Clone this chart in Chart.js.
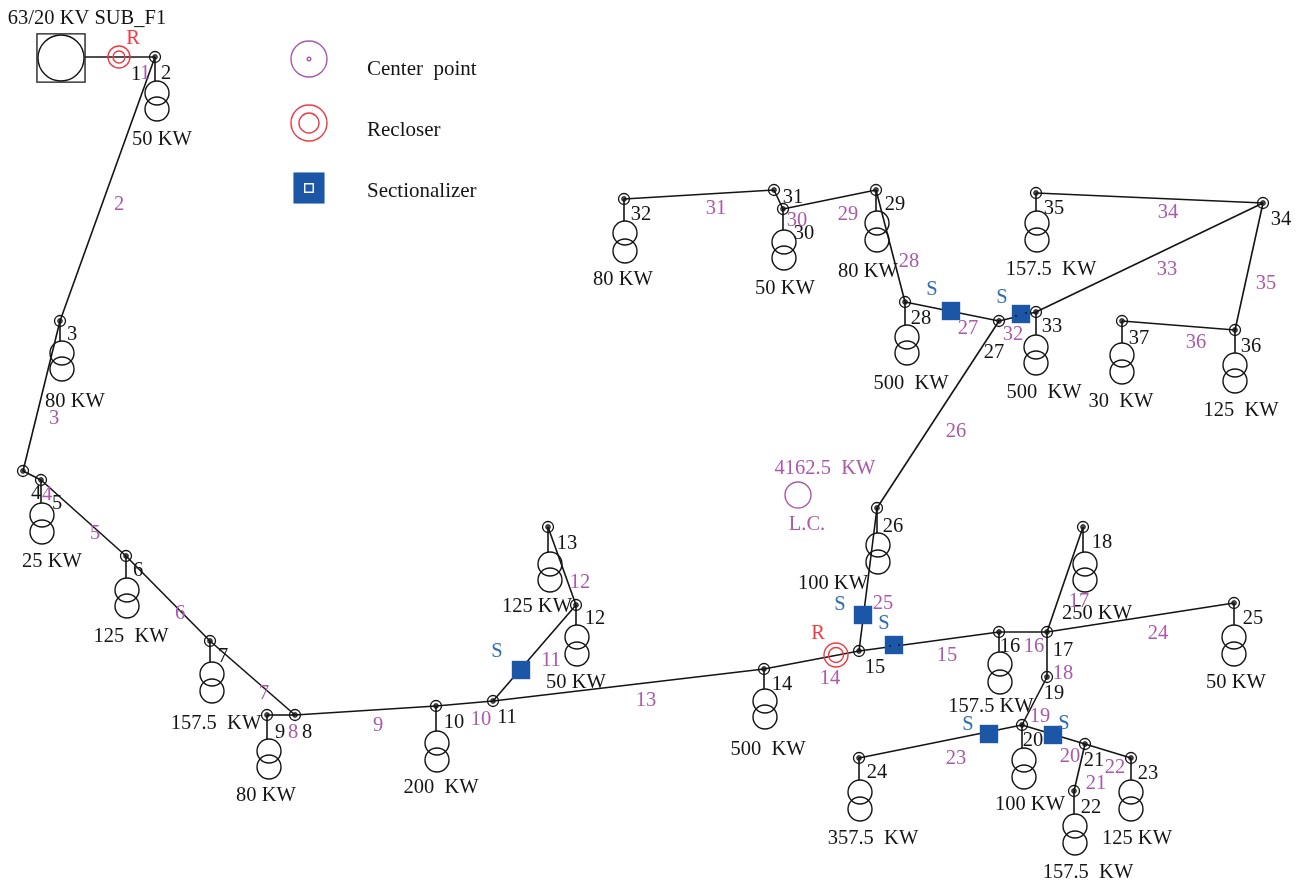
<!DOCTYPE html>
<html><head><meta charset="utf-8">
<style>html,body{margin:0;padding:0;background:#fff}canvas{display:block}</style>
<script src="https://cdn.jsdelivr.net/npm/chart.js@4"></script></head>
<body><canvas id="c" width="1299" height="884"></canvas>
<script>
// bus positions, index = bus number
const busNumbers=[2,3,4,5,6,7,8,9,10,11,12,13,14,15,16,17,18,19,20,21,22,23,24,25,26,27,28,29,30,31,32,33,34,35,36,37];
const busX=[155,60,23,41,126,210,295,267,436,493,576,548,764,859,999,1047,1083,1047,1022,1085,1074,1131,859,1234,877,999,905,876,783,774,624,1036,1263,1036,1235,1122];
const busY=[57,321,471,480,556,641,715,715,706,701,605,527,669,651,632,632,527,677,725,744,791,758,758,603,508,321,302,190,209,190,199,312,203,193,330,321];
const branchFrom=[2,3,4,5,6,7,8,8,10,11,12,11,14,15,16,17,17,17,19,20,21,21,20,15,26,27,28,29,30,31,27,33,34,34,36];
const branchTo=[3,4,5,6,7,8,9,10,11,12,13,14,15,16,17,18,25,19,20,21,22,23,24,26,27,28,29,30,31,32,33,34,35,36,37];
// transformers: bus, x, upper circle y, lower circle y
const xfBus=[2,3,5,6,7,9,10,12,13,14,16,18,20,22,23,24,25,26,28,29,30,32,33,35,36,37];
const xfX=[157,62,42,127,212,269,437,577,550,765,1000,1085,1024,1075,1131,860,1234,878,907,877,784,625,1036,1037,1235,1122];
const xfTop=[93,353,515,590,674,751,743,637,564,701,664,564,760,826,792,792,637,545,337,223,242,233,347,223,365,355];
const xfBot=[109,369,532,606,691,767,760,654,580,717,682,580,777,843,809,809,654,562,353,240,258,251,363,240,381,372];
const sectionalizerX=[521,863,894,989,1053,951,1021];
const sectionalizerY=[670,615,645,734,735,311,314];
const sectionalizerSpeckX=[890,899,1016,1026];
const sectionalizerSpeckY=[646,645,316,313];
const recloserX=[119,836];
const recloserY=[57,655];
const recloserOuter=[11,12];
const recloserInner=[6,7.5];
const blackLabels=[["63/20 KV SUB_F1",87,17],["1",136,73],["2",166,72],["3",72,333],["4",36,492],["5",57,502],["6",138,569],["7",223,655],["8",307,731],["9",280,731],["10",454,721],["11",507,716],["12",595,617],["13",567,542],["14",782,683],["15",875,666],["16",1010,645],["17",1063,649],["18",1102,541],["19",1054,692],["20",1033,739],["21",1094,759],["22",1091,806],["23",1148,772],["24",877,771],["25",1253,617],["26",893,525],["27",994,351],["28",921,317],["29",895,203],["30",804,232],["31",793,196],["32",641,213],["33",1052,325],["34",1281,218],["35",1054,207],["36",1251,345],["37",1139,337],
["50 KW",162,138],["80 KW",75,400],["25 KW",52,560],["125  KW",131,635],["157.5  KW",216,722],["80 KW",266,794],["200  KW",441,786],["50 KW",576,681],["125 KW",537,605],["500  KW",768,748],["157.5 KW",991,705],["250 KW",1097,612],["100 KW",833,582],["50 KW",1236,681],["100 KW",1030,803],["157.5  KW",1088,871],["125 KW",1137,837],["357.5  KW",873,837],["80 KW",623,278],["50 KW",785,287],["80 KW",868,270],["157.5  KW",1051,268],["500  KW",911,382],["500  KW",1044,391],["30  KW",1121,400],["125  KW",1241,409]];
const legendLabels=[["Center  point",367,67],["Recloser",367,128],["Sectionalizer",367,189]];
const purpleLabels=[["1",145,72],["2",119,203],["3",54,417],["4",47,493],["5",95,532],["6",180,612],["7",264,692],["8",293,731],["9",378,724],["10",481,718],["11",551,659],["12",580,581],["13",646,699],["14",830,677],["15",947,654],["16",1034,645],["17",1079,600],["18",1063,672],["19",1040,715],["20",1070,755],["21",1096,782],["22",1115,766],["23",956,757],["24",1158,632],["25",883,602],["26",956,430],["27",968,327],["28",909,260],["29",848,213],["30",797,219],["31",716,207],["32",1013,333],["33",1167,268],["34",1168,211],["35",1266,282],["36",1196,341],["4162.5  KW",825,467],["L.C.",807,523]];
const blueLabels=[["S",497,650],["S",840,603],["S",884,622],["S",968,723],["S",1064,722],["S",932,288],["S",1002,296]];
const redLabels=[["R",133,37],["R",818,632]];

const BLACK='#141414',PURPLE='#a95aa9',BLUE='#2f6db5',RED='#ee3b43',SECT='#1c56a6';
const FONT='"Liberation Serif",serif';
const pos=n=>{const i=busNumbers.indexOf(n);return {x:busX[i],y:busY[i]};};
const line=(a,b)=>({type:'scatter',showLine:true,data:[a,b],borderColor:BLACK,borderWidth:1.6,pointRadius:0,fill:false,order:9});
const pts=(data,r,o)=>Object.assign({type:'scatter',data,pointRadius:r,pointHoverRadius:r,pointStyle:'circle',backgroundColor:'rgba(0,0,0,0)',borderColor:BLACK,pointBorderWidth:1.4,order:5},o||{});
const datasets=[];
datasets.push(line({x:85,y:57},pos(2)));
branchFrom.forEach((f,i)=>datasets.push(line(pos(f),pos(branchTo[i]))));
xfBus.forEach((b,i)=>datasets.push(line(pos(b),{x:pos(b).x,y:xfTop[i]-12})));
datasets.push(pts(xfX.map((x,i)=>({x,y:xfTop[i]})),12));
datasets.push(pts(xfX.map((x,i)=>({x,y:xfBot[i]})),12));
datasets.push(pts(busX.map((x,i)=>({x,y:busY[i]})),5.5,{order:4,pointBorderWidth:1.3}));
datasets.push(pts(busX.map((x,i)=>({x,y:busY[i]})),2.4,{order:3,backgroundColor:'rgba(20,20,20,0.75)',pointBorderWidth:0.8}));
// substation
datasets.push(pts([{x:61,y:58}],34,{pointStyle:'rect',pointBorderWidth:1.3}));
datasets.push(pts([{x:61,y:58}],23));
// reclosers
datasets.push(pts(recloserX.map((x,i)=>({x,y:recloserY[i]})),recloserOuter,{pointRadius:recloserOuter,borderColor:RED,order:4}));
datasets.push(pts(recloserX.map((x,i)=>({x,y:recloserY[i]})),recloserInner,{pointRadius:recloserInner,borderColor:RED,order:3}));
// sectionalizers
datasets.push(pts(sectionalizerX.map((x,i)=>({x,y:sectionalizerY[i]})),13,{pointStyle:'rect',backgroundColor:SECT,borderColor:SECT,pointBorderWidth:0,order:2}));
datasets.push(pts(sectionalizerSpeckX.map((x,i)=>({x,y:sectionalizerSpeckY[i]})),0.9,{backgroundColor:BLACK,pointBorderWidth:0,order:1}));
// legend marks
datasets.push(pts([{x:309,y:59}],18,{borderColor:PURPLE}));
datasets.push(pts([{x:309,y:59}],1.8,{borderColor:PURPLE}));
datasets.push(pts([{x:309,y:123}],18,{borderColor:RED}));
datasets.push(pts([{x:309,y:123}],10,{borderColor:RED}));
datasets.push(pts([{x:309,y:188}],22,{pointStyle:'rect',backgroundColor:SECT,borderColor:SECT,pointBorderWidth:0,order:2}));
datasets.push(pts([{x:309,y:188}],6,{pointStyle:'rect',borderColor:'#fff',order:1}));
// load centre
datasets.push(pts([{x:798,y:495}],13,{borderColor:PURPLE}));

const textPlugin={id:'textLabels',afterDatasetsDraw(ch){
  const {ctx,scales:{x,y}}=ch;
  ctx.save();ctx.textBaseline='middle';
  const put=(list,color,align)=>{ctx.fillStyle=color;ctx.textAlign=align;
    list.forEach(([t,px,py])=>ctx.fillText(t,x.getPixelForValue(px),y.getPixelForValue(py)+2));};
  ctx.font='20.5px '+FONT;
  put(blackLabels,BLACK,'center');put(purpleLabels,PURPLE,'center');
  put(blueLabels,BLUE,'center');put(redLabels,RED,'center');
  ctx.font='21px '+FONT;
  put(legendLabels,BLACK,'left');
  ctx.restore();
}};
new Chart(document.getElementById('c'),{
  type:'scatter',data:{datasets},plugins:[textPlugin],
  options:{responsive:false,animation:false,events:[],layout:{padding:0,autoPadding:false},
    plugins:{legend:{display:false},tooltip:{enabled:false},title:{display:false}},
    scales:{x:{type:'linear',min:0,max:1299,display:false},y:{type:'linear',min:0,max:884,reverse:true,display:false}}}
});
</script></body></html>
